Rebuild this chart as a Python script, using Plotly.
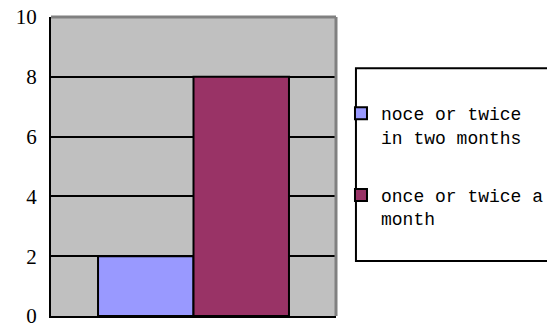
import plotly.graph_objects as go

categories = [""]
series_names = ["noce or twice<br>in two months", "once or twice a<br>month"]
series_values = [[2], [8]]
series_colors = ["#9999FF", "#993366"]
y_ticks = [0, 2, 4, 6, 8, 10]

fig = go.Figure()
for i, (name, vals, col) in enumerate(zip(series_names, series_values, series_colors)):
    fig.add_trace(go.Bar(
        x=categories, y=vals, name=name, legendgroup=f"g{i}",
        marker=dict(color=col, line=dict(color="black", width=2)),
    ))

fig.update_layout(
    width=547, height=325,
    margin=dict(l=51, r=211, t=17, b=9, autoexpand=False),
    paper_bgcolor="white", plot_bgcolor="#C0C0C0",
    barmode="group", bargap=0.33, bargroupgap=0,
    showlegend=True,
    legend=dict(
        x=1.0175, y=0.739, xanchor="left", yanchor="top",
        bgcolor="rgba(0,0,0,0)", borderwidth=0,
        font=dict(family="Liberation Mono, DejaVu Sans Mono, monospace", size=18, color="black"),
        valign="top", tracegroupgap=32, itemwidth=30,
    ),
    font=dict(family="Liberation Serif, serif", color="black"),
)
fig.update_xaxes(
    showticklabels=False, showgrid=False, zeroline=False,
    showline=True, linecolor="black", linewidth=2, ticks="",
)
fig.update_yaxes(
    range=[0, 10], tickvals=y_ticks, ticktext=[str(v) for v in y_ticks],
    showgrid=True, gridcolor="black", gridwidth=2, zeroline=False,
    showline=True, linecolor="black", linewidth=2, ticks="",
    tickfont=dict(family="Liberation Serif, serif", size=21, color="black"),
    ticklabelstandoff=8, ticklabeloverflow="allow",
)
# top and right frame of plot area (gray)
fig.add_shape(type="line", xref="paper", yref="paper", x0=0, x1=1, y0=1, y1=1,
              line=dict(color="#808080", width=3))
fig.add_shape(type="line", xref="paper", yref="paper", x0=1, x1=1, y0=0, y1=1,
              line=dict(color="#808080", width=3))
# legend box
fig.add_shape(type="rect", xref="paper", yref="paper",
              x0=1.070, x1=1.80, y0=0.184, y1=0.829,
              line=dict(color="black", width=2), fillcolor="rgba(0,0,0,0)")
fig.write_html("out.html")
